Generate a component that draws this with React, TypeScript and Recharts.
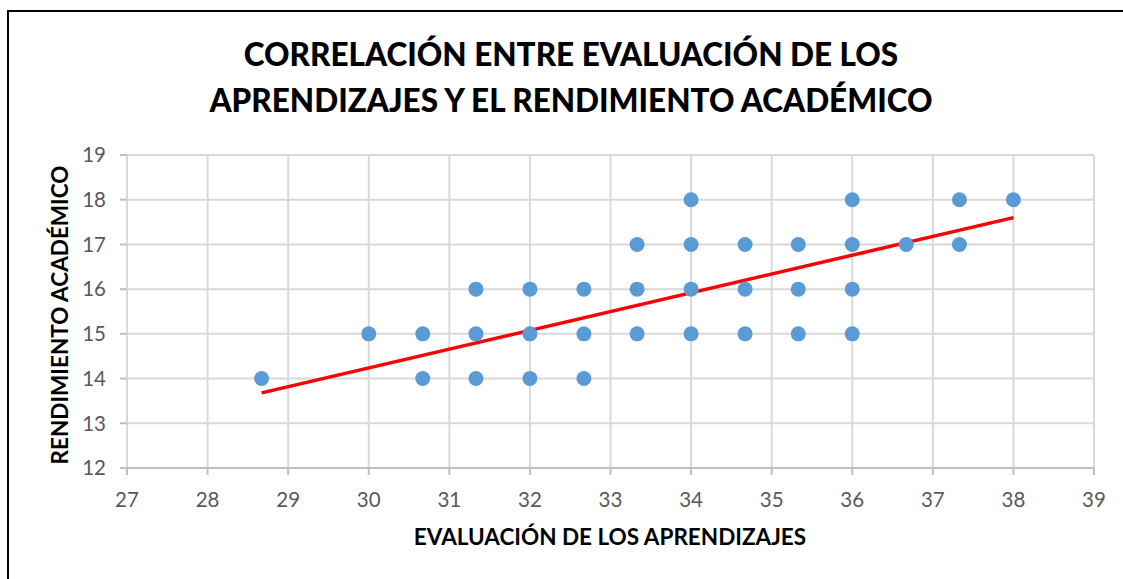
import { ScatterChart, Scatter, XAxis, YAxis, CartesianGrid, ReferenceLine } from 'recharts'

// evaluación de los aprendizajes (x) / rendimiento académico (y)
const evalScores = [
  28.67, 30, 30.67, 30.67, 31.33, 31.33, 31.33, 32, 32, 32, 32.67, 32.67, 32.67,
  33.33, 33.33, 33.33, 34, 34, 34, 34, 34.67, 34.67, 34.67, 35.33, 35.33, 35.33,
  36, 36, 36, 36, 36.67, 37.33, 37.33, 38,
]
const rendScores = [
  14, 15, 15, 14, 16, 15, 14, 16, 15, 14, 16, 15, 14,
  17, 16, 15, 18, 17, 16, 15, 17, 16, 15, 17, 16, 15,
  18, 17, 16, 15, 17, 18, 17, 18,
]
const xTicks = [27, 28, 29, 30, 31, 32, 33, 34, 35, 36, 37, 38, 39]
const yTicks = [12, 13, 14, 15, 16, 17, 18, 19]
const trendX = [28.67, 38]
const trendY = [13.68, 17.6]

const points = evalScores.map((x, i) => ({ x, y: rendScores[i] }))

const FONT = 'Lato, "Open Sans", sans-serif'

export default function App() {
  return (
    <div style={{ position: 'absolute', left: 0, top: 0, width: 1123, height: 579, background: '#fff', fontFamily: FONT }}>
      <div style={{ position: 'absolute', left: 7, top: 10, right: -2, bottom: -2, borderLeft: '2px solid #000', borderTop: '2px solid #000' }} />
      <div style={{ position: 'absolute', left: 171, width: 800, top: 31, textAlign: 'center', fontWeight: 900, fontSize: 31.5, lineHeight: '46px', color: '#000' }}>
        CORRELACIÓN ENTRE EVALUACIÓN DE LOS<br />APRENDIZAJES Y EL RENDIMIENTO ACADÉMICO
      </div>
      <div style={{ position: 'absolute', left: 360, width: 500, top: 523, textAlign: 'center', fontWeight: 700, fontSize: 22.5, color: '#000' }}>
        EVALUACIÓN DE LOS APRENDIZAJES
      </div>
      <div style={{
        position: 'absolute', left: 60, top: 315, width: 360, textAlign: 'center', fontWeight: 700, fontSize: 22.5, color: '#000',
        transform: 'translate(-50%, -50%) rotate(-90deg)', lineHeight: '26px',
      }}>
        RENDIMIENTO ACADÉMICO
      </div>
      <ScatterChart width={1123} height={579} margin={{ top: 155, right: 29, bottom: 71, left: 67 }} style={{ position: 'absolute', left: 0, top: 0 }}>
        <CartesianGrid stroke="#d9d9d9" strokeWidth={2} />
        <XAxis
          type="number"
          dataKey="x"
          domain={[27, 39]}
          ticks={xTicks}
          interval={0}
          height={40}
          tickSize={7}
          tickMargin={17}
          tick={{ fontSize: 20.5, fill: '#595959', fontFamily: FONT }}
          tickLine={{ stroke: '#bfbfbf', strokeWidth: 2 }}
          axisLine={{ stroke: '#bfbfbf', strokeWidth: 2 }}
        />
        <YAxis
          type="number"
          dataKey="y"
          domain={[12, 19]}
          ticks={yTicks}
          interval={0}
          width={60}
          tickSize={7}
          tickMargin={14}
          tick={{ fontSize: 20.5, fill: '#595959', fontFamily: FONT }}
          tickLine={{ stroke: '#bfbfbf', strokeWidth: 2 }}
          axisLine={false}
        />
        <Scatter
          data={points}
          fill="#5b9bd5"
          isAnimationActive={false}
          shape={(p: any) => <circle cx={p.cx} cy={p.cy} r={7.5} fill="#5b9bd5" />}
        />
        <ReferenceLine
          segment={[{ x: trendX[0], y: trendY[0] }, { x: trendX[1], y: trendY[1] }]}
          stroke="#ff0000"
          strokeWidth={3.5}
          ifOverflow="visible"
        />
      </ScatterChart>
    </div>
  )
}
